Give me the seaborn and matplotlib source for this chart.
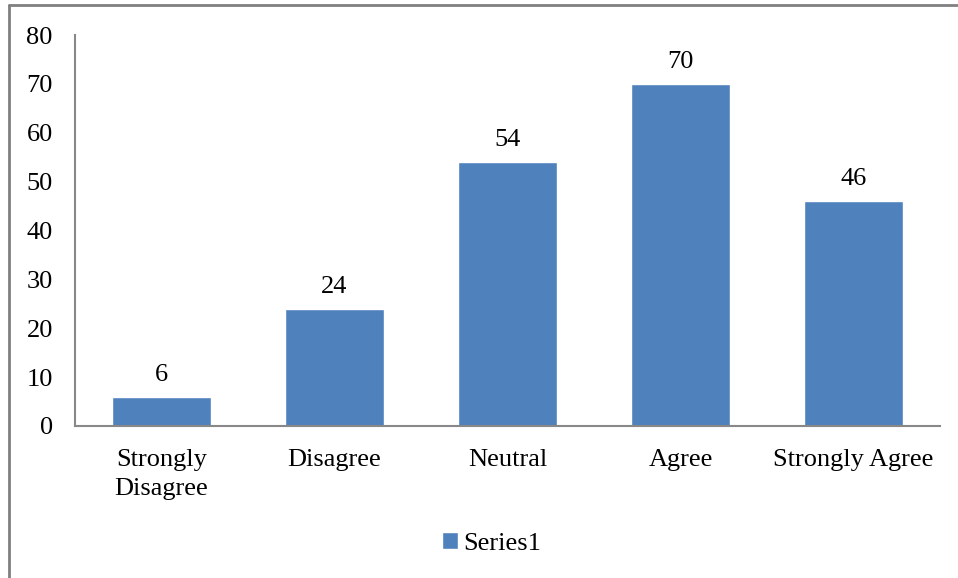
import matplotlib
matplotlib.use("Agg")
import matplotlib.pyplot as plt
import seaborn as sns
import pandas as pd

# data
categories = ["Strongly\nDisagree", "Disagree", "Neutral", "Agree", "Strongly Agree"]
values = [6, 24, 54, 70, 46]
series_name = "Series1"

sns.set_theme(style="white")
plt.rcParams['font.family'] = ['Liberation Serif', 'DejaVu Serif']
plt.rcParams['text.color'] = 'black'
plt.rcParams['xtick.color'] = 'black'
plt.rcParams['ytick.color'] = 'black'

df = pd.DataFrame({"category": categories, "value": values, "series": series_name})

fig = plt.figure(figsize=(9.58, 5.78), dpi=100)
ax = fig.add_axes([0.0783, 0.263, 0.9029, 0.6764])

sns.barplot(data=df, x="category", y="value", hue="series", palette=["#4F81BD"],
            width=0.57, saturation=1, ax=ax)

for c in ax.containers:
    ax.bar_label(c, labels=[str(v) for v in values], padding=8, fontsize=19, color="black")

ax.set_ylim(0, 80)
ax.set_yticks(range(0, 81, 10))
ax.set_xlabel("")
ax.set_ylabel("")
ax.tick_params(axis="y", labelsize=19, length=0, pad=16)
ax.tick_params(axis="x", labelsize=19, length=0, pad=16.5)
for lab in ax.get_xticklabels():
    lab.set_linespacing(1.42)

for s in ["top", "right"]:
    ax.spines[s].set_visible(False)
for s in ["left", "bottom"]:
    ax.spines[s].set_color("#888888")
    ax.spines[s].set_linewidth(1.5)

ax.legend(loc="center", bbox_to_anchor=(0.482, -0.3), frameon=False, fontsize=19,
          handlelength=0.6, handleheight=0.6, handletextpad=0.2)

# outer chart border (only top and left edge visible in the reference)
fig.add_artist(plt.Line2D([0.009, 0.009], [0, 0.992], color="#808080", lw=2, transform=fig.transFigure))
fig.add_artist(plt.Line2D([0.009, 1.0], [0.992, 0.992], color="#808080", lw=2, transform=fig.transFigure))

fig.savefig("out.png", dpi=100)
